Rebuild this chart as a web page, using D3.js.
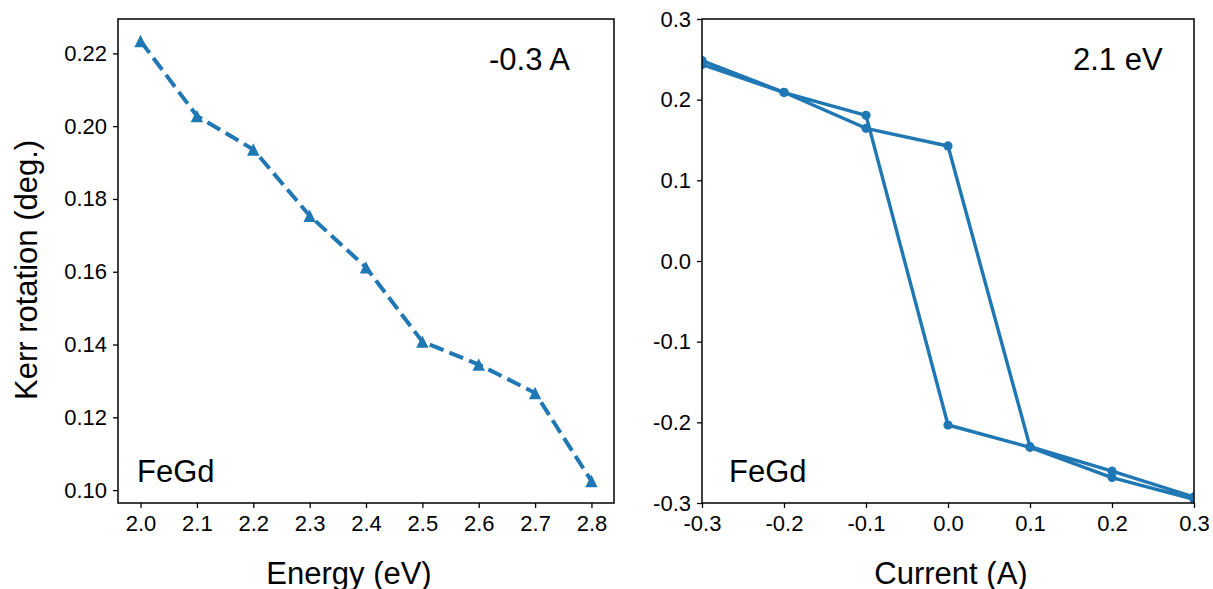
<!DOCTYPE html>
<html>
<head>
<meta charset="utf-8">
<script src="https://cdn.jsdelivr.net/npm/d3@7"></script>
<style>
  html, body { margin: 0; padding: 0; background: #fff; }
  svg { display: block; }
  text { font-family: "Liberation Sans", Arial, Helvetica, sans-serif; fill: #000; }
</style>
</head>
<body>
<svg id="chart" width="1213" height="589"></svg>
<script>
// Kerr rotation vs photon energy, measured at -0.3 A
const energy = [2.0, 2.1, 2.2, 2.3, 2.4, 2.5, 2.6, 2.7, 2.8];
const kerrVsEnergy = [0.2234, 0.2028, 0.1936, 0.1754, 0.1612, 0.1408, 0.1345, 0.1267, 0.1025];
const energyTicks = [2.0, 2.1, 2.2, 2.3, 2.4, 2.5, 2.6, 2.7, 2.8];
const energyTickLabels = ["2.0", "2.1", "2.2", "2.3", "2.4", "2.5", "2.6", "2.7", "2.8"];
const kerrTicksLeft = [0.10, 0.12, 0.14, 0.16, 0.18, 0.20, 0.22];
const kerrTickLabelsLeft = ["0.10", "0.12", "0.14", "0.16", "0.18", "0.20", "0.22"];

// Hysteresis loop at 2.1 eV: sweep -0.3 A -> 0.3 A, then back to -0.3 A
const current = [-0.3, -0.2, -0.1, 0.0, 0.1, 0.2, 0.3, 0.3, 0.2, 0.1, 0.0, -0.1, -0.2, -0.3];
const kerrVsCurrent = [0.2485, 0.2092, 0.1645, 0.1426, -0.2302, -0.2605, -0.2925,
                       -0.2955, -0.2685, -0.2310, -0.2033, 0.1806, 0.2088, 0.2435];
const currentTicks = [-0.3, -0.2, -0.1, 0.0, 0.1, 0.2, 0.3];
const currentTickLabels = ["-0.3", "-0.2", "-0.1", "0.0", "0.1", "0.2", "0.3"];
const kerrTicksRight = [-0.3, -0.2, -0.1, 0.0, 0.1, 0.2, 0.3];
const kerrTickLabelsRight = ["-0.3", "-0.2", "-0.1", "0.0", "0.1", "0.2", "0.3"];

const BLUE = "#1f77b4";
const svg = d3.select("#chart");
svg.append("rect").attr("width", 1213).attr("height", 589).attr("fill", "#fff");

const panelTop = 19, panelBottom = 503;
const left = { x0: 118, x1: 614 };
const right = { x0: 702, x1: 1194 };

function padded(ext, frac) {
  const span = ext[1] - ext[0];
  return [ext[0] - span * frac, ext[1] + span * frac];
}

// ---------- left panel ----------
const xL = d3.scaleLinear().domain(padded(d3.extent(energy), 0.05)).range([left.x0, left.x1]);
const yL = d3.scaleLinear().domain(padded(d3.extent(kerrVsEnergy), 0.05)).range([panelBottom, panelTop]);

// ---------- right panel ----------
const xR = d3.scaleLinear().domain([-0.3, 0.3]).range([right.x0, right.x1]);
const yR = d3.scaleLinear().domain([-0.3, 0.3]).range([panelBottom, panelTop]);

function styleAxis(g) {
  g.select(".domain").remove();
  g.selectAll(".tick line").attr("stroke", "#000").attr("stroke-width", 1.3);
  g.selectAll(".tick text").style("font-size", "22px").attr("fill", "#000");
}

function drawAxes(x, y, xt, xl, yt, yl, x0) {
  svg.append("g")
    .attr("transform", `translate(0,${panelBottom})`)
    .call(d3.axisBottom(x).tickValues(xt).tickSize(5).tickPadding(7)
      .tickFormat((d, i) => xl[i]))
    .call(styleAxis);
  svg.append("g")
    .attr("transform", `translate(${x0},0)`)
    .call(d3.axisLeft(y).tickValues(yt).tickSize(5).tickPadding(6)
      .tickFormat((d, i) => yl[i]))
    .call(styleAxis);
}

drawAxes(xL, yL, energyTicks, energyTickLabels, kerrTicksLeft, kerrTickLabelsLeft, left.x0);
drawAxes(xR, yR, currentTicks, currentTickLabels, kerrTicksRight, kerrTickLabelsRight, right.x0);

// left: dashed line with triangle markers
const leftData = energy.map((e, i) => [e, kerrVsEnergy[i]]);
svg.append("path")
  .datum(leftData)
  .attr("fill", "none")
  .attr("stroke", BLUE)
  .attr("stroke-width", 4)
  .attr("stroke-dasharray", "14.8,6.4")
  .attr("d", d3.line().x(d => xL(d[0])).y(d => yL(d[1])));

const tri = 6.2;
svg.append("g").selectAll("path")
  .data(leftData)
  .join("path")
  .attr("fill", BLUE)
  .attr("d", d => {
    const cx = xL(d[0]), cy = yL(d[1]);
    return `M${cx},${cy - tri}L${cx - tri},${cy + tri}L${cx + tri},${cy + tri}Z`;
  });

// right: solid loop with circle markers, clipped to the plot area
svg.append("clipPath").attr("id", "clipR")
  .append("rect")
  .attr("x", right.x0).attr("y", panelTop)
  .attr("width", right.x1 - right.x0).attr("height", panelBottom - panelTop);

const rightData = current.map((c, i) => [c, kerrVsCurrent[i]]);
const gR = svg.append("g").attr("clip-path", "url(#clipR)");
gR.append("path")
  .datum(rightData)
  .attr("fill", "none")
  .attr("stroke", BLUE)
  .attr("stroke-width", 3.4)
  .attr("stroke-linejoin", "round")
  .attr("d", d3.line().x(d => xR(d[0])).y(d => yR(d[1])));
gR.selectAll("circle")
  .data(rightData)
  .join("circle")
  .attr("cx", d => xR(d[0]))
  .attr("cy", d => yR(d[1]))
  .attr("r", 4.6)
  .attr("fill", BLUE);

// frames
[left, right].forEach(p => {
  svg.append("rect")
    .attr("x", p.x0).attr("y", panelTop)
    .attr("width", p.x1 - p.x0).attr("height", panelBottom - panelTop)
    .attr("fill", "none").attr("stroke", "#000").attr("stroke-width", 1.5);
});

// labels and annotations
const big = "31px";
svg.append("text").attr("x", 349).attr("y", 584).attr("text-anchor", "middle")
  .style("font-size", big).text("Energy (eV)");
svg.append("text").attr("x", 951).attr("y", 584).attr("text-anchor", "middle")
  .style("font-size", big).text("Current (A)");
svg.append("text")
  .attr("transform", "translate(37,400) rotate(-90)")
  .attr("text-anchor", "start")
  .style("font-size", big).text("Kerr rotation (deg.)");

svg.append("text").attr("x", 489).attr("y", 70).style("font-size", big).text("-0.3 A");
svg.append("text").attr("x", 1073).attr("y", 70).style("font-size", big).text("2.1 eV");
svg.append("text").attr("x", 137).attr("y", 482).style("font-size", big).text("FeGd");
svg.append("text").attr("x", 729).attr("y", 482).style("font-size", big).text("FeGd");
</script>
</body>
</html>
